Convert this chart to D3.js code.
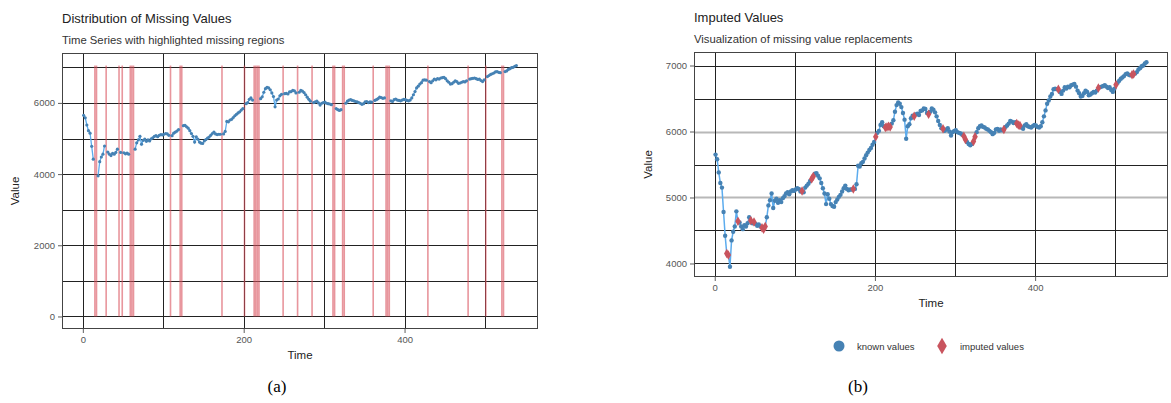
<!DOCTYPE html>
<html>
<head>
<meta charset="utf-8">
<script src="https://cdn.jsdelivr.net/npm/d3@7/dist/d3.min.js"></script>
<style>
  body { margin: 0; background: #fff; }
  text { font-family: "Liberation Sans", Arial, sans-serif; }
</style>
</head>
<body>
<svg id="chart" width="1171" height="403"></svg>
<script>
// time index of the series (every second observation is shown)
const time = d3.range(1, 540, 2);

// series values (known + imputed)
const values = [
  5650,5580,5380,5220,5150,4780,4420,4150,4130,3950,
  4350,4480,4560,4790,4640,4620,4560,4520,4580,4560,
  4610,4700,4650,4610,4630,4600,4570,4590,4560,4540,
  4520,4560,4700,4880,4960,5060,4840,4950,4980,4920,
  4960,4930,4990,5020,5060,5080,5050,5090,5110,5100,
  5120,5140,5130,5090,5100,5080,5150,5180,5210,5250,
  5280,5320,5360,5370,5330,5290,5220,5140,5060,4900,
  5050,4980,4900,4870,4860,4930,4970,5010,5040,5090,
  5140,5180,5130,5110,5120,5120,5130,5130,5200,5480,
  5470,5520,5540,5590,5640,5680,5720,5750,5800,5840,
  5920,5980,6010,6100,6140,6080,6060,6070,6080,6070,
  6120,6170,6300,6400,6440,6420,6370,6280,6180,5890,
  6080,6110,6200,6240,6230,6260,6270,6250,6310,6320,
  6350,6340,6280,6260,6300,6350,6330,6290,6230,6160,
  6100,6050,6040,6010,6030,6050,6000,5940,5990,6010,
  6020,5990,5980,5970,5950,5930,5880,5840,5810,5790,
  5810,5850,5920,5990,6050,6080,6090,6070,6060,6040,
  6030,6010,5990,5960,5980,6030,6040,6010,6030,6020,
  6030,6070,6090,6120,6160,6150,6130,6140,6120,6100,
  6090,6060,6040,6090,6110,6080,6070,6060,6080,6100,
  6090,6070,6060,6080,6140,6230,6320,6420,6470,6530,
  6570,6640,6650,6640,6640,6600,6570,6620,6670,6650,
  6680,6670,6700,6710,6720,6680,6620,6580,6530,6540,
  6580,6620,6600,6550,6560,6580,6600,6590,6620,6660,
  6670,6680,6690,6700,6680,6660,6670,6630,6600,6650,
  6710,6740,6770,6800,6820,6840,6870,6880,6860,6850,
  6860,6870,6880,6900,6940,6960,6990,7000,7030,7050
];

// time points that were missing (and got imputed)
const missingTimes = [15,17,29,45,49,59,61,63,109,121,123,173,201,213,215,217,219,
  249,267,285,311,313,323,325,361,377,379,381,429,479,501,521,523];

const xTicks = [0, 200, 400];
const xMinor = [100, 300, 500];
const yTicksA = [0, 2000, 4000, 6000];
const yMinorA = [1000, 3000, 5000, 7000];
const yTicksB = [4000, 5000, 6000, 7000];
const yMinorB = [4500, 5500, 6500];
const legendLabels = ["known values", "imputed values"];

const colPoint = "#4682B4";   // steelblue
const colLine = "#5CACEE";    // steelblue2
const colMissing = "#D9505C"; // indianred-ish
const colImputed = "#C9545E";

const data = time.map((t, i) => ({ t: t, v: values[i], missing: missingTimes.includes(t) }));

const svg = d3.select("#chart");

function expand(lo, hi) {
  const pad = (hi - lo) * 0.05;
  return [lo - pad, hi + pad];
}

function drawFrame(g, x, y, w, h, gridY, gridX, greyY) {
  const grid = g.append("g");
  gridY.forEach(v => {
    const grey = greyY.includes(v);
    grid.append("line")
      .attr("x1", 0).attr("x2", w)
      .attr("y1", Math.round(y(v)) + 0.5).attr("y2", Math.round(y(v)) + 0.5)
      .attr("stroke", grey ? "#b8b8b8" : "#222")
      .attr("stroke-width", grey ? 2 : 1);
  });
  gridX.forEach(v => {
    grid.append("line")
      .attr("y1", 0).attr("y2", h)
      .attr("x1", Math.round(x(v)) + 0.5).attr("x2", Math.round(x(v)) + 0.5)
      .attr("stroke", "#222")
      .attr("stroke-width", 1);
  });
}

function drawAxes(g, x, y, w, h, yTicks) {
  const ax = g.append("g")
    .attr("transform", "translate(0," + h + ")")
    .call(d3.axisBottom(x).tickValues(xTicks).tickSize(4).tickPadding(3).tickFormat(d3.format("d")));
  const ay = g.append("g")
    .call(d3.axisLeft(y).tickValues(yTicks).tickSize(4).tickPadding(3).tickFormat(d3.format("d")));
  [ax, ay].forEach(a => {
    a.select(".domain").remove();
    a.selectAll(".tick line").attr("stroke", "#333").attr("stroke-width", 0.8);
    a.selectAll(".tick text").attr("fill", "#555").style("font-size", "9.5px")
      .style("font-family", "'Liberation Sans', Arial, sans-serif");
  });
  g.append("rect")
    .attr("x", 0.5).attr("y", 0.5).attr("width", w - 1).attr("height", h - 1)
    .attr("fill", "none").attr("stroke", "#444").attr("stroke-width", 1);
}

function drawTitles(left, top, w, h, title, subtitle, yTitleX) {
  svg.append("text").attr("x", left).attr("y", top - 30)
    .style("font-size", "13px").attr("fill", "#222").text(title);
  svg.append("text").attr("x", left).attr("y", top - 9)
    .style("font-size", "11.3px").attr("fill", "#333").text(subtitle);
  svg.append("text").attr("x", left + w / 2).attr("y", top + h + 30)
    .attr("text-anchor", "middle").style("font-size", "11.5px").attr("fill", "#222").text("Time");
  svg.append("text")
    .attr("transform", "translate(" + yTitleX + "," + (top + h / 2) + ") rotate(-90)")
    .attr("text-anchor", "middle").style("font-size", "11.5px").attr("fill", "#222").text("Value");
}

// ---------- panel (a): distribution of missing values ----------
(function () {
  const left = 62, top = 53, w = 476, h = 276;
  const x = d3.scaleLinear().domain(expand(1, 539)).range([0, w]);
  const maxV = d3.max(values);
  const y = d3.scaleLinear().domain(expand(0, maxV)).range([h, 0]);
  const g = svg.append("g").attr("transform", "translate(" + left + "," + top + ")");

  drawFrame(g, x, y, w, h, yTicksA.concat(yMinorA), xTicks.concat(xMinor), []);

  g.append("g").selectAll("rect")
    .data(data.filter(d => d.missing))
    .enter().append("rect")
    .attr("x", d => x(d.t - 1))
    .attr("width", d => x(d.t + 1) - x(d.t - 1))
    .attr("y", y(maxV))
    .attr("height", y(0) - y(maxV))
    .attr("fill", colMissing)
    .attr("fill-opacity", 0.6);

  g.append("path")
    .datum(data)
    .attr("fill", "none")
    .attr("stroke", colLine)
    .attr("stroke-width", 1.3)
    .attr("d", d3.line().defined(d => !d.missing).x(d => x(d.t)).y(d => y(d.v)));

  g.append("g").selectAll("circle")
    .data(data.filter(d => !d.missing))
    .enter().append("circle")
    .attr("cx", d => x(d.t)).attr("cy", d => y(d.v))
    .attr("r", 1.6).attr("fill", colPoint);

  drawAxes(g, x, y, w, h, yTicksA);
  drawTitles(left, top, w, h, "Distribution of Missing Values",
    "Time Series with highlighted missing regions", 19);
})();

// ---------- panel (b): imputed values ----------
(function () {
  const left = 694, top = 52, w = 474, h = 225;
  const x = d3.scaleLinear().domain(expand(1, 539)).range([0, w]);
  const y = d3.scaleLinear().domain(expand(d3.min(values), d3.max(values))).range([h, 0]);
  const g = svg.append("g").attr("transform", "translate(" + left + "," + top + ")");

  drawFrame(g, x, y, w, h, yTicksB.concat(yMinorB), xTicks.concat(xMinor), [5000, 6000]);

  g.append("path")
    .datum(data)
    .attr("fill", "none")
    .attr("stroke", colLine)
    .attr("stroke-width", 1.5)
    .attr("d", d3.line().x(d => x(d.t)).y(d => y(d.v)));

  g.append("g").selectAll("circle")
    .data(data.filter(d => !d.missing))
    .enter().append("circle")
    .attr("cx", d => x(d.t)).attr("cy", d => y(d.v))
    .attr("r", 2.2).attr("fill", colPoint);

  g.append("g").selectAll("path")
    .data(data.filter(d => d.missing))
    .enter().append("path")
    .attr("transform", d => "translate(" + x(d.t) + "," + y(d.v) + ")")
    .attr("d", d3.symbol().type(d3.symbolDiamond).size(26))
    .attr("fill", colImputed);

  drawAxes(g, x, y, w, h, yTicksB);
  drawTitles(left, top, w, h, "Imputed Values",
    "Visualization of missing value replacements", 652);

  // legend
  const leg = svg.append("g").attr("transform", "translate(839,346)");
  leg.append("circle").attr("cx", 0).attr("cy", 0).attr("r", 5.5).attr("fill", colPoint);
  leg.append("text").attr("x", 18).attr("y", 3.5).style("font-size", "9.5px").attr("fill", "#333").text(legendLabels[0]);
  leg.append("path").attr("transform", "translate(103,0)")
    .attr("d", d3.symbol().type(d3.symbolDiamond).size(80)).attr("fill", colImputed);
  leg.append("text").attr("x", 121).attr("y", 3.5).style("font-size", "9.5px").attr("fill", "#333").text(legendLabels[1]);
})();

// sub-figure captions
svg.append("text").attr("x", 277).attr("y", 392).attr("text-anchor", "middle")
  .style("font-family", "'Liberation Serif', 'Times New Roman', serif").style("font-size", "17px").text("(a)");
svg.append("text").attr("x", 858).attr("y", 392).attr("text-anchor", "middle")
  .style("font-family", "'Liberation Serif', 'Times New Roman', serif").style("font-size", "17px").text("(b)");
</script>
</body>
</html>
